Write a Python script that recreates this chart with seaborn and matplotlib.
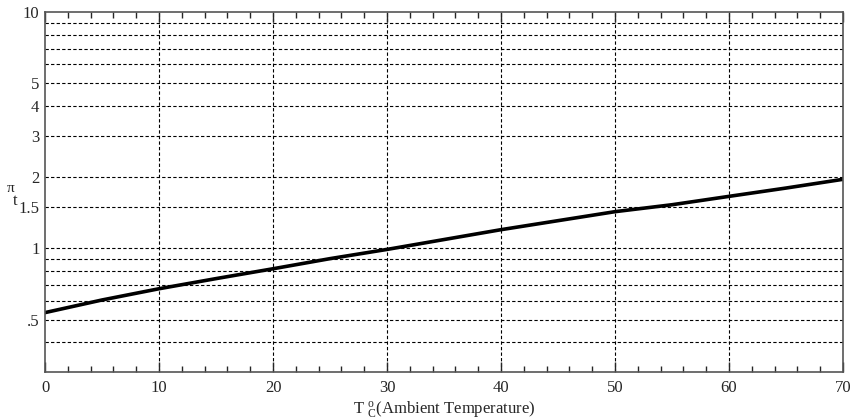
import matplotlib
matplotlib.use("Agg")
import matplotlib.pyplot as plt
import matplotlib.ticker as mticker
import seaborn as sns
import pandas as pd

temperature_c = [0, 5, 10, 15, 20, 25, 30, 35, 40, 45, 50, 55, 60, 65, 70]
pi_t = [0.535, 0.605, 0.675, 0.745, 0.82, 0.905, 0.99, 1.09, 1.2, 1.31, 1.43, 1.53, 1.66, 1.8, 1.96]

y_ticks = [0.5, 1, 1.5, 2, 3, 4, 5, 10]
y_tick_labels = [".5", "1", "1.5", "2", "3", "4", "5", "10"]
y_grid = [0.4, 0.5, 0.6, 0.7, 0.8, 0.9, 1, 1.5, 2, 3, 4, 5, 6, 7, 8, 9]
x_ticks = [0, 10, 20, 30, 40, 50, 60, 70]

sns.set_style("white")
plt.rcParams['font.family'] = ['Liberation Serif', 'DejaVu Serif']
plt.rcParams['mathtext.fontset'] = 'custom'
plt.rcParams['mathtext.rm'] = 'Liberation Serif'
plt.rcParams['mathtext.it'] = 'Liberation Serif:italic'

fig = plt.figure(figsize=(8.51, 4.19), dpi=100)
ax = fig.add_axes([45/851, 47/419, (843-45)/851, (372-12)/419])

df = pd.DataFrame({"T": temperature_c, "pi": pi_t})
sns.lineplot(data=df, x="T", y="pi", ax=ax, color="black", linewidth=2.6)

ax.set_yscale("log")
ax.set_ylim(0.3, 10)
ax.set_xlim(0, 70)

for g in y_grid:
    ax.axhline(g, color="black", linestyle=(0, (3, 2)), linewidth=0.8, zorder=0)
for g in x_ticks[1:-1]:
    ax.axvline(g, color="black", linestyle=(0, (3, 2)), linewidth=0.8, zorder=0)

ax.yaxis.set_major_locator(mticker.FixedLocator(y_ticks))
ax.yaxis.set_major_formatter(mticker.FixedFormatter(y_tick_labels))
ax.yaxis.set_minor_locator(mticker.NullLocator())
ax.set_xticks(x_ticks)
ax.xaxis.set_minor_locator(mticker.MultipleLocator(2))

ax.tick_params(axis="x", which="major", direction="in", length=7, width=1, top=True, bottom=True, labelsize=12, pad=6)
ax.tick_params(axis="x", which="minor", direction="in", length=4, width=1, top=True, bottom=True)
ax.tick_params(axis="y", which="major", direction="in", length=0, labelsize=12, pad=4)

for s in ax.spines.values():
    s.set_color("#555555")
    s.set_linewidth(1.2)

ax.set_xlabel(r"T $^{\rm o}_{\rm C}$(Ambient Temperature)", fontsize=12, labelpad=2)
ax.set_ylabel("")
# y label: pi with subscript t, upright serif like the reference
fig.text(11/851, 1 - 189/419, "π", fontsize=11, ha="center", va="center")
fig.text(15.5/851, 1 - 201/419, "t", fontsize=12, ha="center", va="center")

fig.savefig("out.png", dpi=100)
